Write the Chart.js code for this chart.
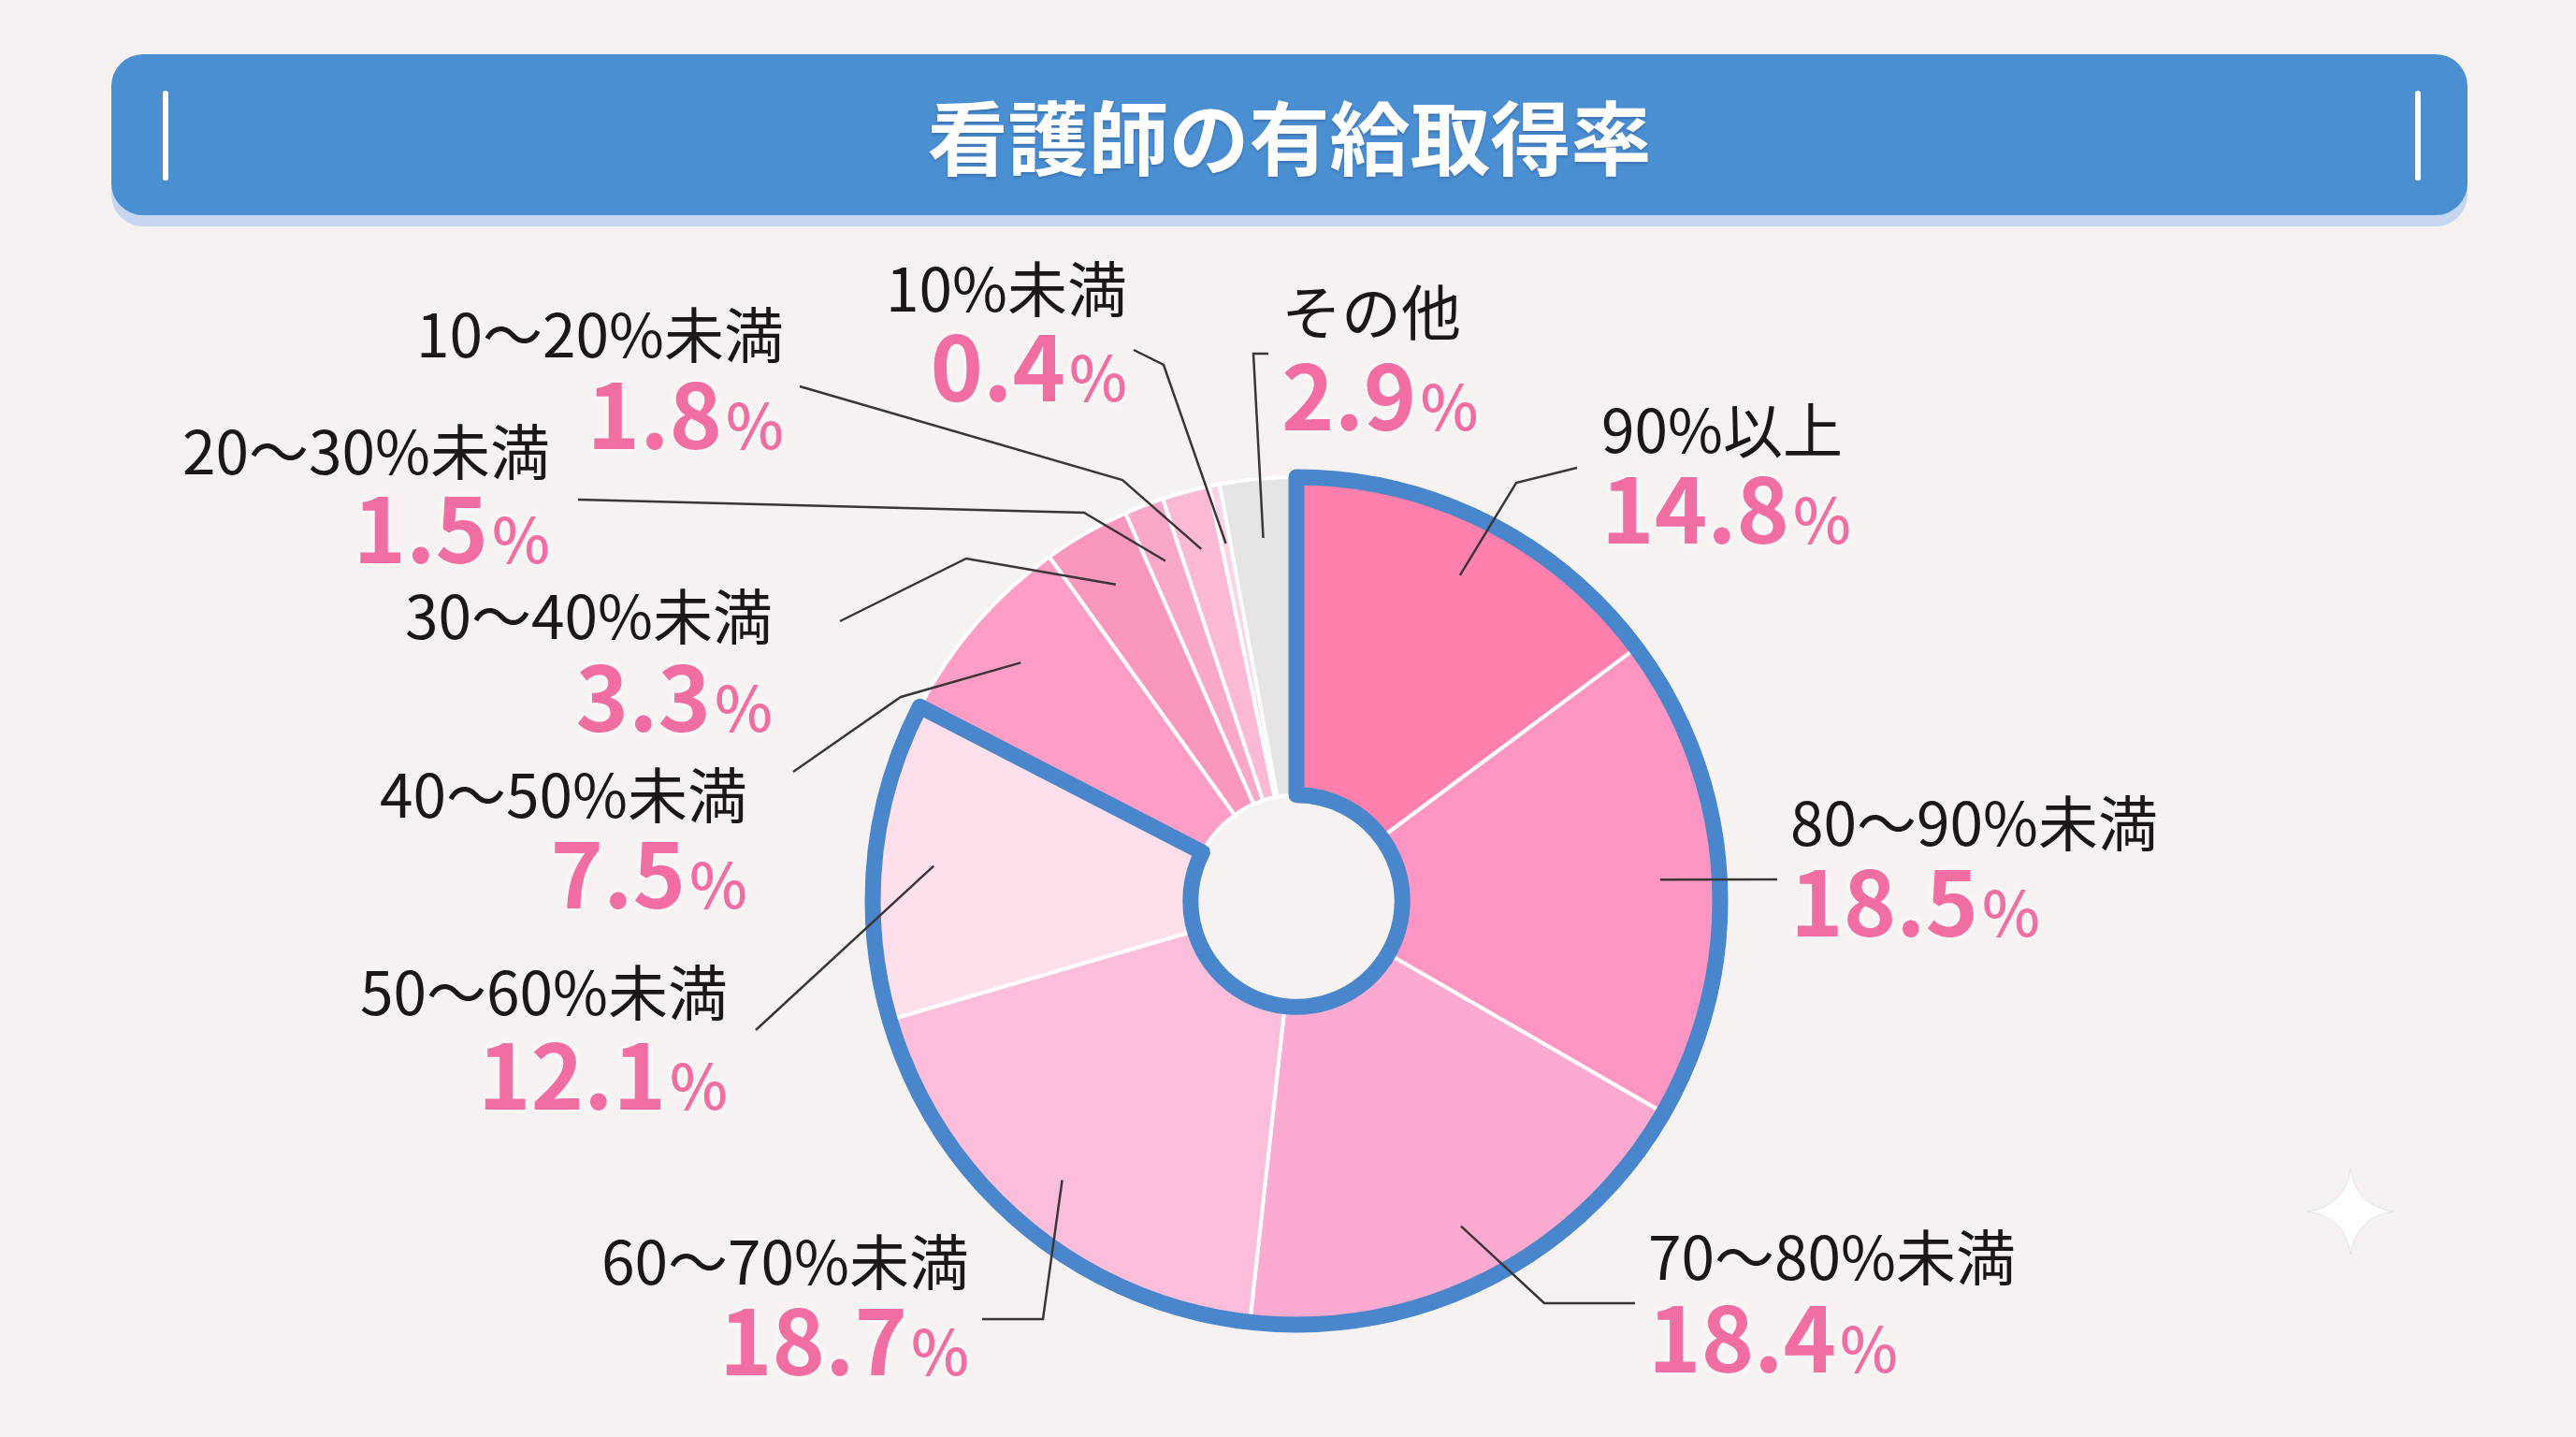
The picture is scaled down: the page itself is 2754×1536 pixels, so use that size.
<!DOCTYPE html>
<html lang="ja">
<head>
<meta charset="UTF-8">
<title>看護師の有給取得率</title>
<script src="https://cdn.jsdelivr.net/npm/chart.js@4"></script>
<style>
  html, body { margin: 0; padding: 0; background: #f6f2f1; }
  body { width: 2754px; height: 1536px; position: relative; overflow: hidden; font-family: "Noto Sans CJK JP", sans-serif; }
  #wrap { position: absolute; left: 0; top: 0; width: 2754px; height: 1536px; }
  .banner { position: absolute; left: 119px; top: 58px; width: 2519px; height: 172px; background: #4b8fd3; border-radius: 34px; box-shadow: 0 12px 0 #c6d6f1; z-index: 2; }
  .banner .bar { position: absolute; top: 39px; width: 6px; height: 96px; background: #fff; border-radius: 3px; }
  .banner h1 { margin: 0; line-height: 172px; text-align: center; color: #fff; font-size: 86px; font-weight: 700; text-shadow: 0 2px 3px rgba(30, 60, 110, .35); }
  .sparkle { position: absolute; left: 2465px; top: 1247px; }
</style>
</head>
<body>
<div class="banner">
  <div class="bar" style="left:55px"></div>
  <div class="bar" style="left:2463px"></div>
  <h1>看護師の有給取得率</h1>
</div>
<div id="wrap"><canvas id="leaveChart"></canvas></div>
<svg class="sparkle" width="96" height="96" viewBox="0 0 100 100">
  <path d="M50 2 Q56 44 98 50 Q56 56 50 98 Q44 56 2 50 Q44 44 50 2 Z" fill="#ffffff" stroke="#e4e0e0" stroke-width="1"/>
</svg>

<script>
// 有給取得率の分布 (%)
const categories = ['90%以上', '80〜90%未満', '70〜80%未満', '60〜70%未満', '50〜60%未満',
                    '40〜50%未満', '30〜40%未満', '20〜30%未満', '10〜20%未満', '10%未満', 'その他'];
const shares = [14.8, 18.5, 18.4, 18.7, 12.1, 7.5, 3.3, 1.5, 1.8, 0.4, 2.9];
const sliceColors = ['#ff80ac', '#ff95c2', '#fdaad3', '#fdbedc', '#fde0ec',
                     '#fe9dc5', '#fa97bf', '#fba7c9', '#fcb9d5', '#fdd3e6', '#e6e4e4'];
// slices 0..4 (50%以上) get the blue outline
const outlinedCount = 5;

// label placement: text anchor + leader line elbow/end (page px)
const labelLayout = [
  { align: 'left',  x: 1712, nameY: 460,  valueY: 581,  elbow: [1621, 516],  end: [1686, 500] },
  { align: 'left',  x: 1914, nameY: 880,  valueY: 1001, elbow: null,        end: [1900, 940] },
  { align: 'left',  x: 1762, nameY: 1344, valueY: 1467, elbow: [1651, 1393], end: [1748, 1393] },
  { align: 'right', x: 1036, nameY: 1349, valueY: 1470, elbow: [1115, 1410], end: [1050, 1410] },
  { align: 'right', x: 778,  nameY: 1061, valueY: 1186, elbow: null,        end: [808, 1101] },
  { align: 'right', x: 799,  nameY: 850,  valueY: 971,  elbow: [963, 745],   end: [848, 825] },
  { align: 'right', x: 826,  nameY: 659,  valueY: 782,  elbow: [1033, 597],  end: [898, 664] },
  { align: 'right', x: 588,  nameY: 483,  valueY: 602,  elbow: [1159, 548],  end: [618, 534] },
  { align: 'right', x: 838,  nameY: 358,  valueY: 480,  elbow: [1200, 513],  end: [855, 413] },
  { align: 'right', x: 1205, nameY: 309,  valueY: 429,  elbow: [1244, 390],  end: [1212, 374] },
  { align: 'left',  x: 1370, nameY: 334,  valueY: 460,  elbow: [1340, 378],  end: [1356, 378] }
];

const groupOutline = {
  id: 'groupOutline',
  afterDatasetsDraw(chart) {
    const arcs = chart.getDatasetMeta(0).data;
    const first = arcs[0].getProps(['x', 'y', 'startAngle', 'outerRadius', 'innerRadius'], true);
    const last = arcs[outlinedCount - 1].getProps(['endAngle'], true);
    const ctx = chart.ctx;
    ctx.save();
    ctx.beginPath();
    ctx.arc(first.x, first.y, first.outerRadius, first.startAngle, last.endAngle);
    ctx.arc(first.x, first.y, first.innerRadius, last.endAngle, first.startAngle, true);
    ctx.closePath();
    ctx.lineWidth = 17;
    ctx.lineJoin = 'round';
    ctx.strokeStyle = '#4a86cb';
    ctx.stroke();
    ctx.restore();
  }
};

const leaderLabels = {
  id: 'leaderLabels',
  afterDatasetsDraw(chart) {
    const ctx = chart.ctx;
    const arcs = chart.getDatasetMeta(0).data;
    ctx.save();
    arcs.forEach((arc, i) => {
      const L = labelLayout[i];
      const p = arc.getProps(['x', 'y', 'startAngle', 'endAngle', 'outerRadius'], true);
      const mid = (p.startAngle + p.endAngle) / 2;
      const r = p.outerRadius * 0.86;
      const sx = p.x + Math.cos(mid) * r;
      const sy = p.y + Math.sin(mid) * r;

      ctx.beginPath();
      ctx.moveTo(sx, sy);
      if (L.elbow) ctx.lineTo(L.elbow[0], L.elbow[1]);
      ctx.lineTo(L.end[0], L.end[1]);
      ctx.strokeStyle = '#3a3636';
      ctx.lineWidth = 2.5;
      ctx.stroke();

      // category name
      ctx.font = '400 64px "Noto Sans CJK JP"';
      ctx.fillStyle = '#1d1616';
      ctx.textBaseline = 'middle';
      ctx.textAlign = L.align;
      ctx.fillText(categories[i], L.x, L.nameY);

      // value, with a smaller percent sign
      const num = shares[i].toFixed(1);
      const bigFont = '700 96px "Noto Sans CJK JP"';
      const pctFont = '500 66px "Noto Sans CJK JP"';
      ctx.font = bigFont;
      const w1 = ctx.measureText(num).width;
      ctx.font = pctFont;
      const w2 = ctx.measureText('%').width;
      const x0 = L.align === 'right' ? L.x - w1 - w2 - 4 : L.x;
      ctx.textAlign = 'left';
      ctx.textBaseline = 'alphabetic';
      ctx.shadowColor = 'rgba(255,255,255,0.95)';
      ctx.shadowBlur = 8;
      ctx.fillStyle = '#f06ea1';
      ctx.font = bigFont;
      ctx.fillText(num, x0, L.valueY);
      ctx.font = pctFont;
      ctx.fillText('%', x0 + w1 + 4, L.valueY);
      ctx.shadowBlur = 0;
    });
    ctx.restore();
  }
};

new Chart(document.getElementById('leaveChart'), {
  type: 'doughnut',
  data: {
    labels: categories,
    datasets: [{
      data: shares,
      backgroundColor: sliceColors,
      borderColor: '#ffffff',
      borderWidth: 4
    }]
  },
  options: {
    responsive: true,
    maintainAspectRatio: false,
    animation: false,
    radius: 453,
    cutout: '25%',
    layout: { padding: { left: 400, right: 382, top: 440, bottom: 50 } },
    plugins: {
      legend: { display: false },
      tooltip: { enabled: false }
    }
  },
  plugins: [groupOutline, leaderLabels]
});
</script>
</body>
</html>
